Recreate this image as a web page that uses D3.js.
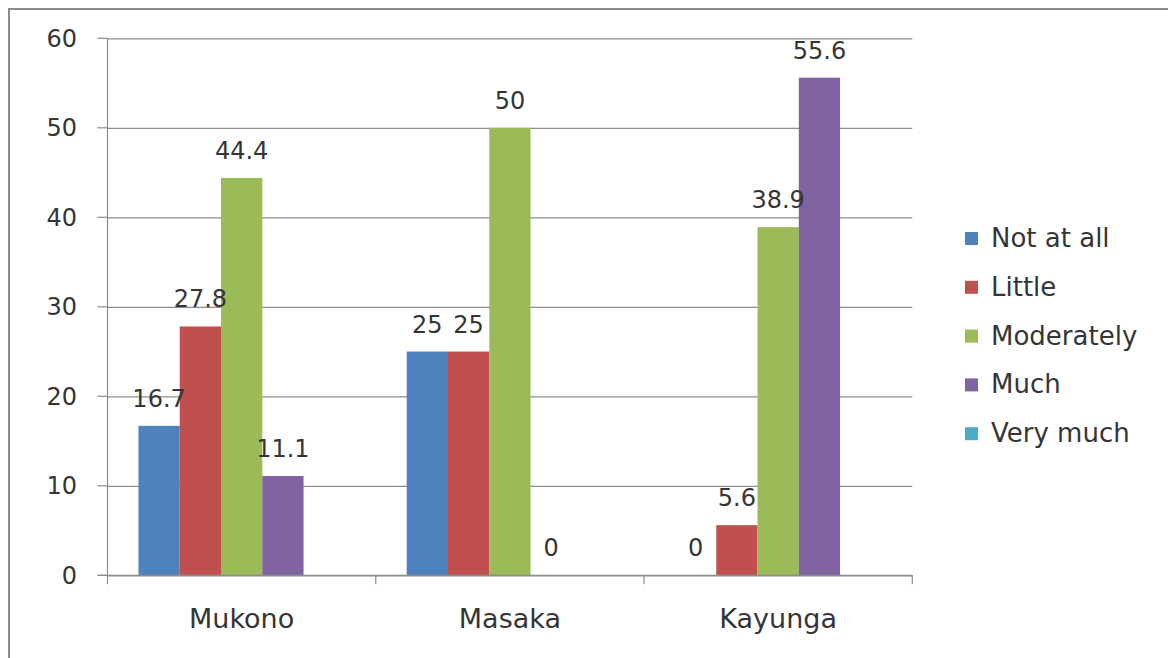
<!DOCTYPE html>
<html>
<head>
<meta charset="utf-8">
<script src="https://cdn.jsdelivr.net/npm/d3@7"></script>
<style>
  html, body { margin: 0; padding: 0; background: #ffffff; }
  svg { display: block; }
  text { font-family: "DejaVu Sans", Verdana, sans-serif; fill: #353535; }
</style>
</head>
<body>
<svg id="chart" width="1168" height="658"></svg>
<script>
// Districts on the x axis
const categories = ["Mukono", "Masaka", "Kayunga"];
// Response levels (legend order)
const seriesNames = ["Not at all", "Little", "Moderately", "Much", "Very much"];
const seriesColors = ["#4F81BD", "#C0504D", "#9BBB59", "#8064A2", "#4BACC6"];
// Percentages per district, one array per response level
const notAtAll   = [16.7, 25, 0];
const little     = [27.8, 25, 5.6];
const moderately = [44.4, 50, 38.9];
const much       = [11.1, 0, 55.6];
const veryMuch   = [null, null, null];
const seriesValues = [notAtAll, little, moderately, much, veryMuch];
// Y axis ticks
const yTicks = [0, 10, 20, 30, 40, 50, 60];

const svg = d3.select("#chart");

// Outer chart frame
svg.append("rect")
  .attr("x", 9).attr("y", 9)
  .attr("width", 1300).attr("height", 800)
  .attr("fill", "#ffffff")
  .attr("stroke", "#8a8a8a").attr("stroke-width", 2);

const plot = { left: 107.5, right: 912.3, top: 38.3, bottom: 575.3 };

const y = d3.scaleLinear().domain([0, 60]).range([plot.bottom, plot.top]);
const x0 = d3.scaleBand().domain(categories).range([plot.left, plot.right]).padding(0);
const x1 = d3.scaleBand().domain(seriesNames).range([0, x0.bandwidth()])
  .paddingInner(0).paddingOuter(0.75);

// Horizontal gridlines
const yAxis = d3.axisLeft(y).tickValues(yTicks)
  .tickSize(-(plot.right - plot.left)).tickFormat("");
const gy = svg.append("g").attr("transform", `translate(${plot.left},0)`).call(yAxis);
gy.select(".domain").remove();
gy.selectAll(".tick line").attr("stroke", "#8c8c8c").attr("stroke-width", 1.2);

// Short outer tick marks
svg.append("g").selectAll("line").data(yTicks).join("line")
  .attr("x1", plot.left - 10).attr("x2", plot.left)
  .attr("y1", d => y(d)).attr("y2", d => y(d))
  .attr("stroke", "#8c8c8c").attr("stroke-width", 1.2);

// Vertical axis line
svg.append("line")
  .attr("x1", plot.left).attr("x2", plot.left)
  .attr("y1", plot.top).attr("y2", plot.bottom)
  .attr("stroke", "#8c8c8c").attr("stroke-width", 1.2);

// Y tick labels
svg.append("g").selectAll("text").data(yTicks).join("text")
  .attr("x", 77).attr("y", d => y(d))
  .attr("dy", "0.36em")
  .attr("text-anchor", "end")
  .attr("font-size", 24)
  .text(d => d);

// Category boundary ticks below the baseline
const boundaries = categories.map(c => x0(c)).concat([plot.right]);
svg.append("g").selectAll("line").data(boundaries).join("line")
  .attr("x1", d => d).attr("x2", d => d)
  .attr("y1", plot.bottom).attr("y2", plot.bottom + 9)
  .attr("stroke", "#8c8c8c").attr("stroke-width", 1.2);

// Category labels
svg.append("g").selectAll("text").data(categories).join("text")
  .attr("x", d => x0(d) + x0.bandwidth() / 2)
  .attr("y", 628)
  .attr("text-anchor", "middle")
  .attr("font-size", 27)
  .text(d => d);

// Bars and value labels
const flat = [];
categories.forEach((c, ci) => {
  seriesNames.forEach((s, si) => {
    flat.push({ cat: c, series: s, color: seriesColors[si], value: seriesValues[si][ci] });
  });
});
const present = flat.filter(d => d.value !== null);

svg.append("g").selectAll("rect").data(present.filter(d => d.value > 0)).join("rect")
  .attr("x", d => x0(d.cat) + x1(d.series))
  .attr("y", d => y(d.value))
  .attr("width", x1.bandwidth())
  .attr("height", d => y(0) - y(d.value))
  .attr("fill", d => d.color);

// Baseline drawn over the bars
svg.append("line")
  .attr("x1", plot.left - 10).attr("x2", plot.right)
  .attr("y1", plot.bottom).attr("y2", plot.bottom)
  .attr("stroke", "#8c8c8c").attr("stroke-width", 1.2);

svg.append("g").selectAll("text").data(present).join("text")
  .attr("x", d => x0(d.cat) + x1(d.series) + x1.bandwidth() / 2)
  .attr("y", d => y(d.value) - 19)
  .attr("text-anchor", "middle")
  .attr("font-size", 24)
  .text(d => d.value);

// Legend
const legend = svg.append("g").attr("transform", "translate(965,232)");
const items = legend.selectAll("g").data(seriesNames).join("g")
  .attr("transform", (d, i) => `translate(0,${i * 48.8})`);
items.append("rect")
  .attr("width", 13).attr("height", 13)
  .attr("fill", (d, i) => seriesColors[i]);
items.append("text")
  .attr("x", 26).attr("y", 15)
  .attr("font-size", 26)
  .text(d => d);
</script>
</body>
</html>
